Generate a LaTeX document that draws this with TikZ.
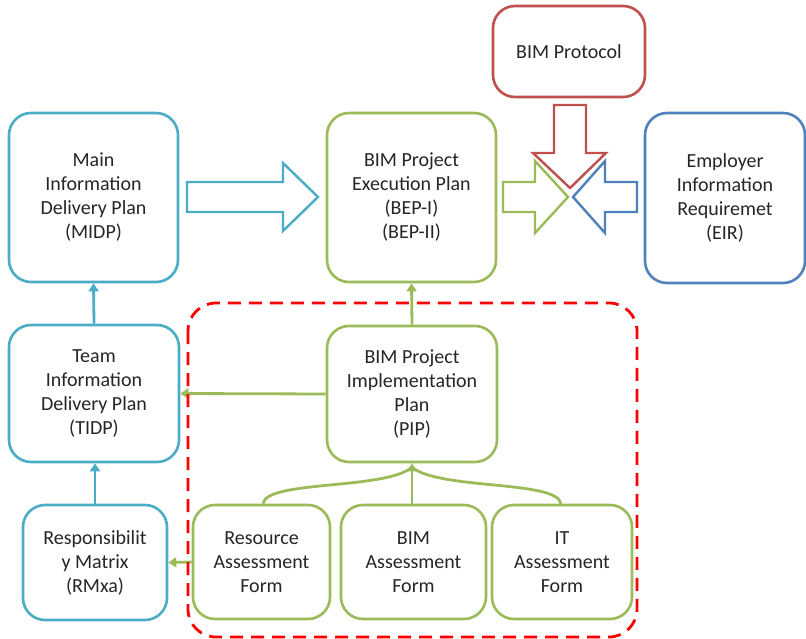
\documentclass[tikz,border=0pt]{standalone}
\usepackage{fontspec}
\setmainfont{Carlito}
\usetikzlibrary{arrows.meta}

\definecolor{aqua}{HTML}{4BACC6}
\definecolor{leaf}{HTML}{9BBB59}
\definecolor{brick}{HTML}{C0504D}
\definecolor{steel}{HTML}{4F81BD}

\begin{document}
\begin{tikzpicture}[x=1pt, y=-1pt,
    box/.style={draw, line width=2.6pt, rounded corners=22pt, fill=white,
        align=center, inner sep=0pt, text=black!85,
        font=\fontsize{20}{24}\selectfont},
    aquabox/.style={box, draw=aqua},
    leafbox/.style={box, draw=leaf},
    brickbox/.style={box, draw=brick},
    steelbox/.style={box, draw=steel},
    link/.style={line width=2.8pt, -{Triangle[width=10pt,length=8pt]}},
    aqualink/.style={link, draw=aqua, fill=aqua},
    leaflink/.style={link, draw=leaf, fill=leaf},
    blockarrow/.style={line width=2.4pt, line join=miter, fill=white}]
    \useasboundingbox (0,0) rectangle (806,639);

    % Top row
    \node[aquabox, minimum width=169pt, minimum height=169pt] (midp) at (93.5,197.5)
        {Main\\Information\\Delivery Plan\\(MIDP)};
    \node[leafbox, minimum width=169pt, minimum height=169pt] (bep) at (411.5,197.5)
        {BIM Project\\Execution Plan\\(BEP-I)\\(BEP-II)};
    \node[brickbox, minimum width=152pt, minimum height=91pt] (protocol) at (569,51.5)
        {BIM Protocol};
    \node[steelbox, minimum width=160pt, minimum height=170pt] (eir) at (725,198)
        {Employer\\Information\\Requiremet\\(EIR)};

    % Middle row
    \node[aquabox, minimum width=170pt, minimum height=137pt] (tidp) at (94,393.5)
        {Team\\Information\\Delivery Plan\\(TIDP)};
    \node[leafbox, minimum width=170pt, minimum height=136pt] (pip) at (412,394)
        {BIM Project\\Implementation\\Plan\\(PIP)};

    % Bottom row
    \node[aquabox, minimum width=144pt, minimum height=115pt] (rmxa) at (95,562.5)
        {Responsibilit\\y Matrix\\(RMxa)};
    \node[leafbox, minimum width=137pt, minimum height=114pt] (res) at (261.5,562)
        {Resource\\Assessment\\Form};
    \node[leafbox, minimum width=145pt, minimum height=114pt] (bima) at (413.5,562)
        {BIM\\Assessment\\Form};
    \node[leafbox, minimum width=140pt, minimum height=114pt] (ita) at (562,562)
        {IT\\Assessment\\Form};

    % Block arrows
    \draw[blockarrow, draw=aqua] (187,182) -- (283,182) -- (283,163) -- (318,197)
        -- (283,231) -- (283,212) -- (187,212) -- cycle;
    \draw[blockarrow, draw=leaf] (503,182) -- (535,182) -- (535,161) -- (568,197)
        -- (535,233) -- (535,212) -- (503,212) -- cycle;
    \draw[blockarrow, draw=steel] (637,182) -- (605,182) -- (605,161) -- (573,197)
        -- (605,233) -- (605,212) -- (637,212) -- cycle;
    \draw[blockarrow, draw=brick] (554,105) -- (586,105) -- (586,153) -- (606,153)
        -- (570,188) -- (533,153) -- (554,153) -- cycle;

    % Connectors
    \draw[aqualink] (tidp.north) -- (midp.south);
    \draw[aqualink] (rmxa.north) -- (rmxa.north |- tidp.south);
    \draw[leaflink] (pip.north) -- (bep.south);
    \draw[leaflink] (pip.west) -- (tidp.east);
    \draw[leaflink] (res.west) -- (rmxa.east);
    % Assessment forms feed the PIP
    \draw[leaf, line width=2.8pt] ([xshift=1.5pt]res.north)
        .. controls (266,480) and (385,490) .. ([yshift=-4pt]pip.south);
    \draw[leaf, line width=2.8pt] ([xshift=-1pt]ita.north)
        .. controls (557,480) and (440,490) .. ([yshift=-4pt]pip.south);
    \draw[leaflink] (pip.south |- bima.north) -- (pip.south);

    % Implementation boundary
    \draw[red, line width=2.8pt, dash pattern=on 13pt off 8pt, rounded corners=28pt]
        (188,303) rectangle (637,637);
\end{tikzpicture}
\end{document}
